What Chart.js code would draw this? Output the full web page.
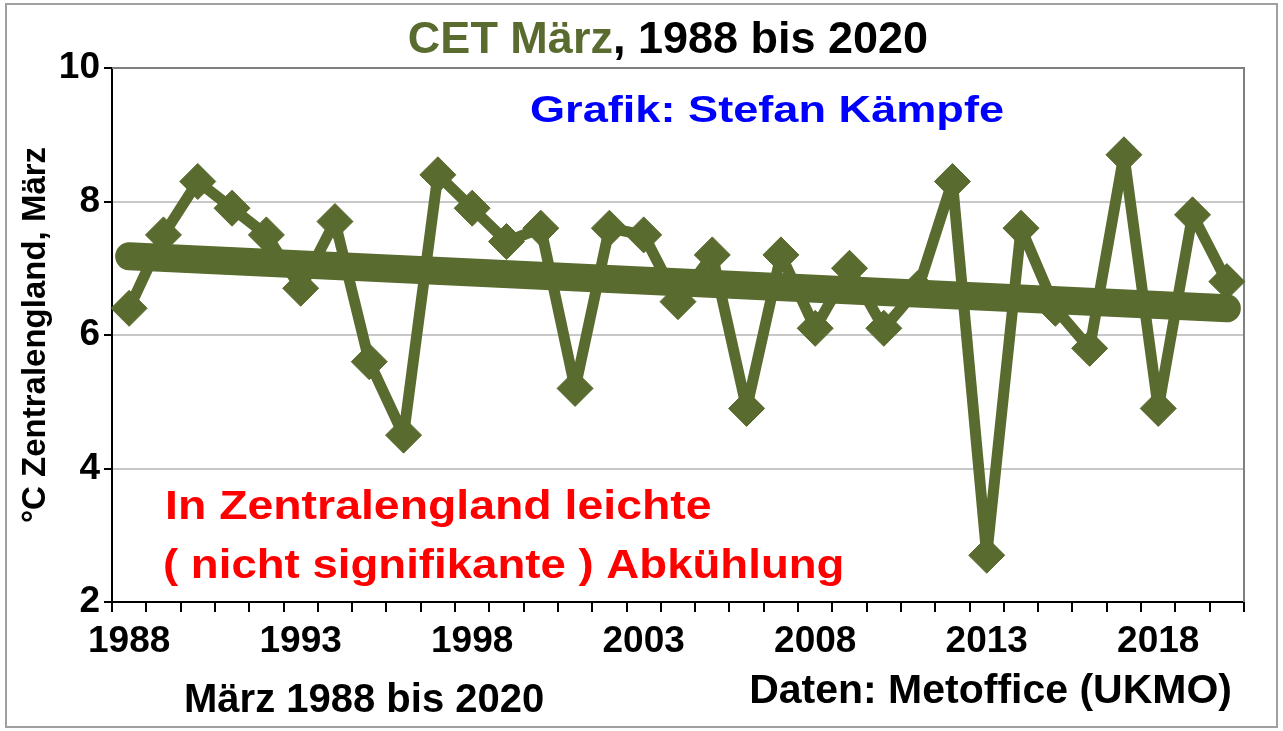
<!DOCTYPE html>
<html>
<head>
<meta charset="utf-8">
<title>CET März, 1988 bis 2020</title>
<script src="https://cdn.jsdelivr.net/npm/chart.js@4.4.1/dist/chart.umd.min.js"></script>
<style>
  html, body { margin:0; padding:0; background:#fff; }
  #wrap { width:1283px; height:731px; position:relative; }
</style>
</head>
<body>
<div id="wrap"><canvas id="chart" width="1283" height="731"></canvas></div>
<script>
const YEARS = ['1988','1989','1990','1991','1992','1993','1994','1995','1996','1997','1998',
  '1999','2000','2001','2002','2003','2004','2005','2006','2007','2008','2009','2010',
  '2011','2012','2013','2014','2015','2016','2017','2018','2019','2020'];
const TEMPS = [6.4,7.5,8.3,7.9,7.5,6.7,7.7,5.6,4.5,8.4,7.9,7.4,7.6,5.2,7.6,7.5,6.5,7.2,
  4.9,7.2,6.1,7.0,6.1,6.7,8.3,2.7,7.6,6.4,5.8,8.7,4.9,7.8,6.8];
// linear trend as drawn: value at first and last year
const TREND_ENDS = [7.18, 6.4];
const Y_MIN = 2, Y_MAX = 10, Y_STEP = 2;
const LABEL_EVERY = 5;

const OLIVE = '#596b2e';
const FONT = "'Liberation Sans', Arial, sans-serif";

const trend = YEARS.map((_, i) =>
  i === 0 ? TREND_ENDS[0] : (i === YEARS.length - 1 ? TREND_ENDS[1] : null));

// draw text with an optional horizontal stretch
function stretchText(ctx, text, x, y, size, color, sx, align){
  ctx.save();
  ctx.font = 'bold ' + size + 'px ' + FONT;
  ctx.fillStyle = color;
  ctx.textBaseline = 'alphabetic';
  ctx.textAlign = 'left';
  const w = ctx.measureText(text).width * sx;
  const left = align === 'right' ? x - w : x;
  ctx.translate(left, y);
  ctx.scale(sx, 1);
  ctx.fillText(text, 0, 0);
  ctx.restore();
}

const framePlugin = {
  id: 'frame',
  beforeDraw(chart){
    const ctx = chart.ctx;
    ctx.save();
    ctx.fillStyle = '#fff';
    ctx.fillRect(0, 0, chart.width, chart.height);
    ctx.strokeStyle = '#a0a0a0';
    ctx.lineWidth = 2;
    ctx.strokeRect(6, 4, 1271, 723);
    ctx.restore();
  },
  beforeDatasetsDraw(chart){
    const {ctx, chartArea: a} = chart;
    ctx.save();
    ctx.strokeStyle = '#7f7f7f';
    ctx.lineWidth = 2;
    ctx.beginPath();
    ctx.moveTo(a.left, a.top);
    ctx.lineTo(a.right, a.top);
    ctx.lineTo(a.right, a.bottom);
    ctx.stroke();
    ctx.restore();
  }
};

const textPlugin = {
  id: 'texts',
  afterDraw(chart){
    const ctx = chart.ctx;
    // title in two colours
    ctx.save();
    ctx.font = 'bold 45px ' + FONT;
    const t1 = 'CET März', t2 = ', 1988 bis 2020';
    const w1 = ctx.measureText(t1).width, w2 = ctx.measureText(t2).width;
    const x0 = 668 - (w1 + w2) / 2;
    ctx.textBaseline = 'alphabetic';
    ctx.fillStyle = OLIVE;
    ctx.fillText(t1, x0, 53);
    ctx.fillStyle = '#000';
    ctx.fillText(t2, x0 + w1, 53);
    ctx.restore();

    stretchText(ctx, 'Grafik: Stefan Kämpfe', 530, 122, 37, '#0000ff', 1.22);
    stretchText(ctx, 'In Zentralengland leichte', 165, 519, 40, '#ff0000', 1.16);
    stretchText(ctx, '( nicht signifikante ) Abkühlung', 163, 578, 40, '#ff0000', 1.14);
    stretchText(ctx, 'März 1988 bis 2020', 184, 712, 40, '#000', 1);
    stretchText(ctx, 'Daten: Metoffice (UKMO)', 1232, 703, 41, '#000', 1, 'right');
  }
};

new Chart(document.getElementById('chart').getContext('2d'), {
  type: 'line',
  data: {
    labels: YEARS,
    datasets: [
      {
        label: 'Trend',
        data: trend,
        spanGaps: true,
        borderColor: OLIVE,
        borderWidth: 28,
        borderCapStyle: 'round',
        pointRadius: 0,
        fill: false,
        tension: 0
      },
      {
        label: 'CET März',
        data: TEMPS,
        borderColor: OLIVE,
        borderWidth: 11,
        borderJoinStyle: 'round',
        pointStyle: 'rectRot',
        pointRadius: 18,
        pointBackgroundColor: OLIVE,
        pointBorderColor: OLIVE,
        pointBorderWidth: 1,
        fill: false,
        tension: 0
      }
    ]
  },
  options: {
    responsive: false,
    animation: false,
    devicePixelRatio: 1,
    layout: {padding: {left: 0, right: 39, top: 68, bottom: 0}},
    plugins: {legend: {display: false}, tooltip: {enabled: false}},
    scales: {
      x: {
        type: 'category',
        offset: true,
        grid: {offset: true, drawOnChartArea: false, drawTicks: true, tickLength: 10, color: '#000', lineWidth: 2},
        border: {display: true, color: '#000', width: 2},
        ticks: {
          autoSkip: false, maxRotation: 0, minRotation: 0, padding: 8, color: '#000',
          font: {family: FONT, size: 37, weight: 'bold'},
          callback: (v, i) => i % LABEL_EVERY === 0 ? YEARS[i] : ''
        },
        afterFit: s => { s.height = 129; }
      },
      y: {
        min: Y_MIN, max: Y_MAX,
        grid: {color: '#c8c8c8', lineWidth: 2, tickColor: '#000', tickLength: 8},
        border: {display: true, color: '#000', width: 2},
        ticks: {
          stepSize: Y_STEP, padding: 4, color: '#000',
          font: {family: FONT, size: 37, weight: 'bold'}
        },
        title: {
          display: true, text: '°C Zentralengland, März', color: '#000',
          font: {family: FONT, size: 33, weight: 'bold'},
          padding: {top: 16, bottom: 0}
        },
        afterFit: s => { s.width = 112; }
      }
    }
  },
  plugins: [framePlugin, textPlugin]
});
</script>
</body>
</html>
